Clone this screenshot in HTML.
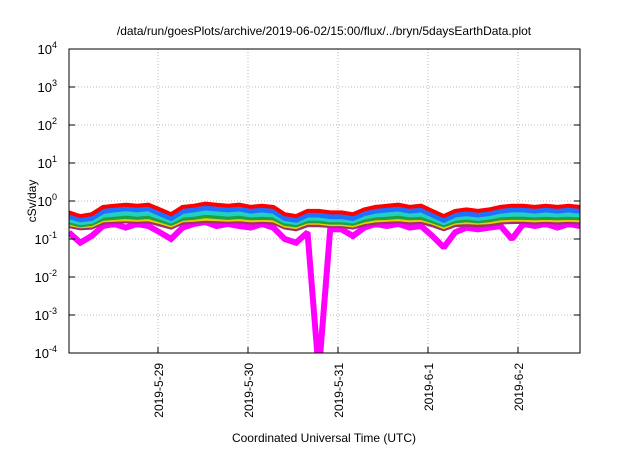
<!DOCTYPE html>
<html><head><meta charset="utf-8"><style>
body{margin:0;background:#fff;width:640px;height:448px;overflow:hidden}
svg text{font-family:"Liberation Sans",sans-serif;fill:#000}
</style></head><body>
<svg id="chart" width="640" height="448">
<text x="324" y="35" font-size="12" text-anchor="middle">/data/run/goesPlots/archive/2019-06-02/15:00/flux/../bryn/5daysEarthData.plot</text>
<g id="grid"></g><g id="series"></g><g id="axes"></g>
<text x="324" y="442" font-size="12" text-anchor="middle">Coordinated Universal Time (UTC)</text>
<text transform="translate(36,201) rotate(-90)" font-size="12" text-anchor="middle">cSv/day</text>
</svg>
<script>
const xTickLabels=["2019-5-29","2019-5-30","2019-5-31","2019-6-1","2019-6-2"];
const xTickDays=[0,1,2,3,4];
const yTickExps=[-4,-3,-2,-1,0,1,2,3,4];
const red=[0.5,0.4,0.45,0.7,0.75,0.8,0.75,0.8,0.6,0.45,0.7,0.75,0.85,0.8,0.75,0.8,0.7,0.75,0.7,0.45,0.4,0.55,0.55,0.5,0.5,0.45,0.6,0.7,0.75,0.8,0.7,0.75,0.55,0.4,0.55,0.6,0.55,0.6,0.7,0.75,0.75,0.7,0.75,0.7,0.75,0.7];
const blue=[0.4,0.33,0.36,0.55,0.6,0.65,0.6,0.65,0.48,0.36,0.55,0.6,0.68,0.64,0.6,0.64,0.56,0.6,0.56,0.36,0.32,0.44,0.44,0.4,0.4,0.36,0.48,0.56,0.6,0.64,0.56,0.6,0.44,0.32,0.44,0.48,0.44,0.48,0.56,0.6,0.6,0.56,0.6,0.56,0.6,0.56];
const cyan=[0.32,0.27,0.29,0.42,0.45,0.48,0.45,0.48,0.38,0.3,0.42,0.45,0.5,0.48,0.45,0.48,0.43,0.45,0.43,0.3,0.27,0.35,0.35,0.32,0.32,0.3,0.38,0.43,0.45,0.48,0.43,0.45,0.35,0.27,0.35,0.38,0.35,0.38,0.43,0.45,0.45,0.43,0.45,0.43,0.45,0.43];
const green=[0.27,0.23,0.25,0.34,0.36,0.38,0.36,0.38,0.31,0.25,0.34,0.36,0.4,0.38,0.36,0.38,0.35,0.36,0.35,0.25,0.23,0.29,0.29,0.27,0.27,0.25,0.31,0.35,0.36,0.38,0.35,0.36,0.29,0.23,0.29,0.31,0.29,0.31,0.35,0.36,0.36,0.35,0.36,0.35,0.36,0.35];
const yellow=[0.24,0.21,0.22,0.3,0.31,0.32,0.31,0.32,0.27,0.22,0.3,0.31,0.33,0.32,0.31,0.32,0.3,0.31,0.3,0.22,0.2,0.26,0.26,0.24,0.24,0.22,0.27,0.3,0.31,0.32,0.3,0.31,0.26,0.2,0.26,0.27,0.26,0.27,0.3,0.31,0.31,0.3,0.31,0.3,0.31,0.3];
const brown=[0.22,0.19,0.2,0.27,0.28,0.29,0.28,0.29,0.24,0.2,0.27,0.28,0.3,0.29,0.28,0.29,0.27,0.28,0.27,0.2,0.18,0.23,0.23,0.22,0.22,0.2,0.24,0.27,0.28,0.29,0.27,0.28,0.23,0.18,0.23,0.24,0.23,0.24,0.27,0.28,0.28,0.27,0.28,0.27,0.28,0.27];
const magenta=[0.15,0.08,0.12,0.22,0.25,0.2,0.25,0.22,0.15,0.1,0.2,0.25,0.28,0.22,0.25,0.22,0.2,0.25,0.2,0.1,0.08,0.15,0.00001,0.18,0.18,0.12,0.2,0.25,0.22,0.25,0.2,0.22,0.12,0.06,0.15,0.2,0.18,0.2,0.22,0.1,0.25,0.22,0.25,0.2,0.25,0.22];
const seriesList=[["magenta-series",magenta,"#ff00ff",6],["brown-series",brown,"#a0306a",4],["yellow-series",yellow,"#e8d000",3],["green-series",green,"#20a040",4],["cyan-series",cyan,"#20d0c0",5],["blue-series",blue,"#2070ff",6],["red-series",red,"#ff0000",4]];
const L=69,R=580,T=49,B=353,dayPx=90,day0X=158,tStart=-0.99,tEnd=4.69;
const NS="http://www.w3.org/2000/svg";
function xs(t){return day0X+t*dayPx}
function ys(v){const lv=Math.max(-4.5,Math.log10(v));return T+(4-lv)*(B-T)/8}
function mk(tag,attrs,parent){const e=document.createElementNS(NS,tag);for(const k in attrs)e.setAttribute(k,attrs[k]);parent.appendChild(e);return e}
const grid=document.getElementById('grid'),axes=document.getElementById('axes'),ser=document.getElementById('series');
yTickExps.forEach(e=>{const y=T+(4-e)*(B-T)/8;
 if(e>-4&&e<4){const g=mk('line',{x1:L,x2:R,y1:y,y2:y,stroke:'#bbb','stroke-dasharray':'1,2'},grid);
 
 }
 const t=mk('line',{x1:L,x2:L+6,y1:y,y2:y,stroke:'#000'},axes);
 const t2=mk('line',{x1:R-6,x2:R,y1:y,y2:y,stroke:'#000'},axes);
 const tx=mk('text',{x:L-12,y:y+5,'font-size':13,'text-anchor':'end'},axes);
 
 
 tx.innerHTML='10<tspan dy="-6" font-size="9">'+e+'</tspan>';});
xTickDays.forEach((d,i)=>{const x=xs(d);
 const g=mk('line',{x1:x,x2:x,y1:T,y2:B,stroke:'#bbb','stroke-dasharray':'1,2'},grid);
 
 
 const t=mk('line',{x1:x,x2:x,y1:B-6,y2:B,stroke:'#000'},axes);
 const tx=mk('text',{transform:`translate(${x+5},${B+10}) rotate(-90)`,'font-size':12,'text-anchor':'end'},axes);
 
 
 tx.textContent=xTickLabels[i];});
const clip=mk('clipPath',{id:'pc'},mk('defs',{},document.getElementById('chart')));mk('rect',{x:L,y:T,width:R-L,height:B-T},clip);
ser.setAttribute('clip-path','url(#pc)');
seriesList.forEach(([name,vals,col,w])=>{const n=vals.length;
 const pts=vals.map((v,i)=>xs(tStart+i*(tEnd-tStart)/(n-1)).toFixed(1)+','+ys(v).toFixed(1)).join(' ');
 const p=mk('polyline',{points:pts,fill:'none',stroke:col,'stroke-width':w,'stroke-linejoin':'miter','stroke-miterlimit':1.5},ser);
 
 });
const frame=mk('rect',{x:L,y:T,width:R-L,height:B-T,fill:'none',stroke:'#000','stroke-width':1},axes);


</script>
</body></html>
